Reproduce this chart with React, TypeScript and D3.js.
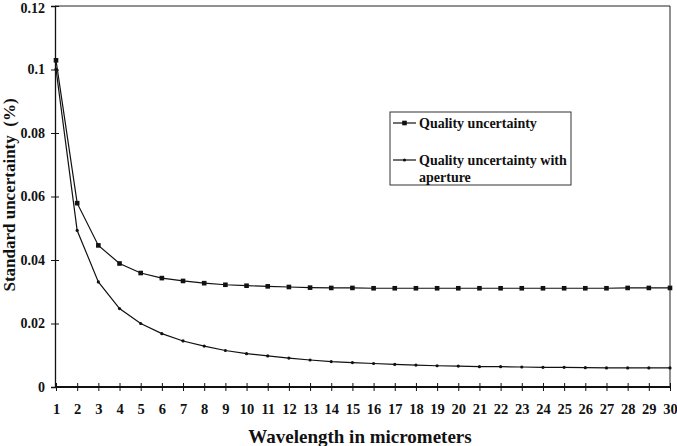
import React, { useRef, useEffect } from "react";
import * as d3 from "d3";

const wavelengths = d3.range(1, 31);

// Quality uncertainty (square markers)
const qualityValues = [
  0.1029, 0.0579, 0.0446, 0.0389, 0.0359, 0.0343, 0.0334, 0.0327, 0.0322, 0.0319,
  0.0317, 0.0315, 0.0313, 0.0312, 0.0312, 0.0311, 0.0311, 0.0311, 0.0311, 0.0311,
  0.0311, 0.0311, 0.0311, 0.0311, 0.0311, 0.0311, 0.0311, 0.0312, 0.0312, 0.0312,
];

// Quality uncertainty with aperture (dot markers)
const apertureValues = [
  0.1001, 0.0493, 0.0331, 0.0247, 0.02, 0.0168, 0.0145, 0.0129, 0.0115, 0.0105,
  0.0098, 0.0091, 0.0085, 0.008, 0.0077, 0.0074, 0.0071, 0.0069, 0.0067, 0.0066,
  0.0064, 0.0064, 0.0063, 0.0062, 0.0062, 0.0061, 0.006, 0.006, 0.006, 0.006,
];

const yTicks = [0, 0.02, 0.04, 0.06, 0.08, 0.1, 0.12];

const legendLabels = ["Quality uncertainty", "Quality uncertainty with", "aperture"];

const W = 677;
const H = 446;
const FONT = "'Liberation Serif', 'Times New Roman', serif";

export default function App() {
  const svgRef = useRef<SVGSVGElement>(null);

  useEffect(() => {
    const svg = d3.select(svgRef.current);
    svg.selectAll("*").remove();

    const margin = { top: 6, right: 7, bottom: 59, left: 55 };
    const x = d3
      .scaleLinear()
      .domain([1, 30])
      .range([margin.left + 1, W - margin.right]);
    const y = d3
      .scaleLinear()
      .domain([0, 0.12])
      .range([H - margin.bottom, margin.top]);

    // plot frame (top and right)
    svg
      .append("path")
      .attr("d", `M${margin.left},${y(0.12)}H${x(30)}V${y(0)}`)
      .attr("fill", "none")
      .attr("stroke", "#222")
      .attr("stroke-width", 1);

    // y axis
    const yAxis = svg
      .append("g")
      .attr("transform", `translate(${margin.left},0)`)
      .call(
        d3
          .axisLeft(y)
          .tickValues(yTicks)
          .tickSize(4)
          .tickPadding(6)
          .tickFormat((d) => (d === 0 ? "0" : d3.format("")(+(+d).toFixed(2))))
      );
    yAxis.select(".domain").attr("stroke", "#111").attr("stroke-width", 1.3);
    yAxis.selectAll(".tick line").attr("x1", -4).attr("x2", 4).attr("stroke", "#111");
    yAxis
      .selectAll("text")
      .attr("font-family", FONT)
      .attr("font-weight", "bold")
      .attr("font-size", 14)
      .attr("fill", "#111")
      .attr("x", -10)
      .attr("dy", (d) => (d === 0.12 ? "0.45em" : "0.32em"));

    // x axis
    const xAxis = svg
      .append("g")
      .attr("transform", `translate(0,${y(0)})`)
      .call(
        d3
          .axisBottom(x)
          .tickValues(wavelengths)
          .tickSize(4)
          .tickPadding(13)
          .tickFormat(d3.format("d"))
      );
    xAxis
      .select(".domain")
      .attr("d", `M${margin.left},0H${x(30)}`)
      .attr("stroke", "#111")
      .attr("stroke-width", 1.8);
    xAxis.selectAll(".tick line").attr("y1", -4).attr("y2", 4).attr("stroke", "#111");
    xAxis
      .selectAll("text")
      .attr("font-family", FONT)
      .attr("font-weight", "bold")
      .attr("font-size", 14.5)
      .attr("fill", "#111");

    const line = d3
      .line<number>()
      .x((_, i) => x(wavelengths[i]))
      .y((d) => y(d));

    // series: quality uncertainty
    svg
      .append("path")
      .datum(qualityValues)
      .attr("d", line)
      .attr("fill", "none")
      .attr("stroke", "#111")
      .attr("stroke-width", 1.2);
    svg
      .append("g")
      .selectAll("rect")
      .data(qualityValues)
      .join("rect")
      .attr("x", (_, i) => x(wavelengths[i]) - 2.3)
      .attr("y", (d) => y(d) - 2.3)
      .attr("width", 4.6)
      .attr("height", 4.6)
      .attr("fill", "#111");

    // series: with aperture
    svg
      .append("path")
      .datum(apertureValues)
      .attr("d", line)
      .attr("fill", "none")
      .attr("stroke", "#111")
      .attr("stroke-width", 1.2);
    svg
      .append("g")
      .selectAll("circle")
      .data(apertureValues)
      .join("circle")
      .attr("cx", (_, i) => x(wavelengths[i]))
      .attr("cy", (d) => y(d))
      .attr("r", 1.6)
      .attr("fill", "#111");

    // axis titles
    svg
      .append("text")
      .attr("x", 360)
      .attr("y", 443)
      .attr("text-anchor", "middle")
      .attr("font-family", FONT)
      .attr("font-weight", "bold")
      .attr("font-size", 19)
      .attr("fill", "#111")
      .text("Wavelength in micrometers");

    svg
      .append("text")
      .attr("transform", `translate(15,${195}) rotate(-90)`)
      .attr("text-anchor", "middle")
      .attr("font-family", FONT)
      .attr("font-weight", "bold")
      .attr("font-size", 17)
      .attr("fill", "#111")
      .attr("xml:space", "preserve")
      .text("Standard uncertainty  (%)");

    // legend
    const legend = svg.append("g").attr("transform", "translate(390,112)");
    legend
      .append("rect")
      .attr("width", 181)
      .attr("height", 73)
      .attr("fill", "white")
      .attr("stroke", "#333")
      .attr("stroke-width", 1);

    const rows = [11, 48];
    rows.forEach((ry, i) => {
      legend
        .append("line")
        .attr("x1", 3)
        .attr("x2", 26)
        .attr("y1", ry)
        .attr("y2", ry)
        .attr("stroke", "#111")
        .attr("stroke-width", 1.2);
      if (i === 0) {
        legend
          .append("rect")
          .attr("x", 12.2)
          .attr("y", ry - 2.3)
          .attr("width", 4.6)
          .attr("height", 4.6)
          .attr("fill", "#111");
      } else {
        legend
          .append("circle")
          .attr("cx", 14.5)
          .attr("cy", ry)
          .attr("r", 1.6)
          .attr("fill", "#111");
      }
    });

    [
      [legendLabels[0], 11],
      [legendLabels[1], 48],
      [legendLabels[2], 65],
    ].forEach(([label, ly]) => {
      legend
        .append("text")
        .attr("x", 29)
        .attr("y", ly as number)
        .attr("dy", "0.35em")
        .attr("font-family", FONT)
        .attr("font-weight", "bold")
        .attr("font-size", 14)
        .attr("fill", "#111")
        .text(label as string);
    });
  }, []);

  return (
    <svg
      ref={svgRef}
      width={W}
      height={H}
      style={{ position: "absolute", left: 0, top: 0, background: "white" }}
    />
  );
}
